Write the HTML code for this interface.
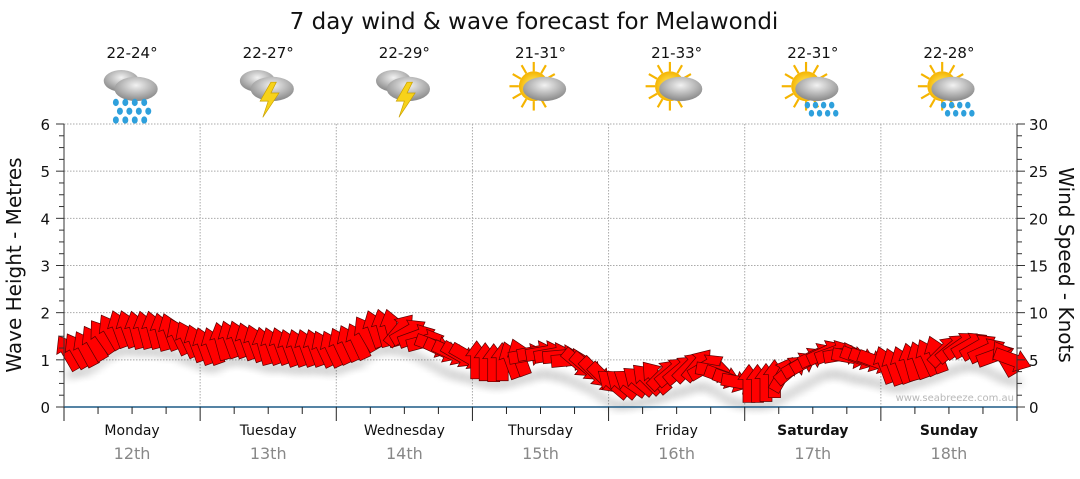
<!DOCTYPE html>
<html><head><meta charset="utf-8"><style>
body{margin:0;background:#fff;width:1080px;height:475px;overflow:hidden;font-family:"DejaVu Sans",sans-serif}
svg text{font-family:"DejaVu Sans",sans-serif}
</style></head><body>
<svg id="c" width="1080" height="475">
<defs>
<radialGradient id="cloud" cx="50%" cy="35%" r="60%"><stop offset="0" stop-color="#f2f2f2"/><stop offset="1" stop-color="#8f8f8f"/></radialGradient>
<radialGradient id="sun" cx="50%" cy="50%" r="50%"><stop offset="0" stop-color="#fff27a"/><stop offset="1" stop-color="#f5b400"/></radialGradient>
<filter id="sh" x="-50%" y="-50%" width="200%" height="200%"><feGaussianBlur stdDeviation="4"/></filter>
</defs>
<text x="534" y="29" text-anchor="middle" font-size="23" fill="#111">7 day wind &amp; wave forecast for Melawondi</text>
<g id="grid"></g><g id="icons"></g><g id="marks"></g><g id="axes"></g>
<text transform="translate(21,265) rotate(-90)" text-anchor="middle" font-size="20" fill="#111">Wave Height - Metres</text>
<text transform="translate(1059,265) rotate(90)" text-anchor="middle" font-size="20" fill="#111">Wind Speed - Knots</text>
<text x="1014" y="401" text-anchor="end" font-size="10" fill="#b8b8b8">www.seabreeze.com.au</text>
</svg>
<script>
const days=["Monday","Tuesday","Wednesday","Thursday","Friday","Saturday","Sunday"];
const dates=["12th","13th","14th","15th","16th","17th","18th"];
const temps=["22-24°","22-27°","22-29°","21-31°","21-33°","22-31°","22-28°"];
const icons=["rain","storm","storm","sun","sun","sunrain","sunrain"];
const leftTicks=[0,1,2,3,4,5,6];
const rightTicks=[0,5,10,15,20,25,30];
const windSpeed=[5.8,6,6.2,6.8,7.5,8,8.3,8.3,8.2,8.2,8.2,8,8,7.5,7.2,6.8,
6.5,6.5,7,7.2,7.2,7,6.8,6.5,6.5,6.5,6.3,6.3,6.3,6.3,6.2,6.2,
6.5,6.8,7,7.8,8.3,8.4,8.4,8.2,8,7.5,7,6.5,6,5.7,5.5,5.3,
5,4.8,4.7,4.8,5,5.3,5.5,5.8,5.8,5.6,5.4,5,4.6,4.2,3.6,3,
2.5,2.5,2.6,2.8,3,3.2,3.5,3.8,4,4.3,4.5,4.3,3.8,3.2,2.8,2.6,
2.5,2.5,2.6,3,3.5,4,4.5,5,5.5,5.8,5.8,5.6,5.3,5.2,5,4.8,
4.5,4.3,4.5,4.8,5,5.3,5.6,6,6.3,6.6,6.6,6.4,6,5.5,5.2,5];
const windDir=[-30,-30,-28,-30,-35,-30,-20,-20,-15,-15,-15,-15,-20,-25,-25,-20,
-20,-20,-15,-20,-20,-20,-20,-15,-20,-20,-20,-20,-20,-20,-25,-25,
-25,-25,-25,-30,-20,-15,-15,40,60,70,75,110,115,115,120,120,
0,0,0,0,-20,-20,80,80,80,80,85,85,130,130,135,135,
-50,-50,-55,-50,-45,-40,45,50,50,45,40,60,100,110,110,100,
0,0,0,0,30,50,60,60,65,65,70,80,100,110,110,110,
-20,-20,-20,-15,-20,-25,-20,45,50,55,60,60,65,70,-30,110];
const X0=64,X1=1017,Y0=407,Y1=124,N=7;
const dayW=(X1-X0)/N;
const xDay=d=>X0+d*dayW;
const yM=m=>Y0-(m/6)*(Y0-Y1);
const yK=k=>Y0-(k/30)*(Y0-Y1);
const xSlot=i=>X0+(i+0.5)*dayW/16;
const NS="http://www.w3.org/2000/svg";
function mk(tag,attrs,parent){const e=document.createElementNS(NS,tag);for(const k in attrs)e.setAttribute(k,attrs[k]);parent.appendChild(e);return e;}
const grid=document.getElementById('grid'),axes=document.getElementById('axes'),marks=document.getElementById('marks'),ic=document.getElementById('icons');
leftTicks.forEach(t=>{if(t>0){const l=mk('line',{x1:X0,x2:X1,y1:yM(t),y2:yM(t),stroke:'#aaa','stroke-dasharray':'1.5,1.5'},grid);

}
const tx=mk('text',{x:X0-14,y:yM(t)+6,'text-anchor':'end','font-size':15,fill:'#111'},axes);tx.textContent=t;

});
for(let v=0;v<=6;v+=0.25){mk('line',{x1:X0-(v%1===0?8:5),x2:X0,y1:yM(v),y2:yM(v),stroke:'#333'},axes);}
rightTicks.forEach(t=>{const tx=mk('text',{x:X1+12,y:yK(t)+6,'font-size':15,fill:'#111'},axes);tx.textContent=t;

});
for(let v=0;v<=30;v+=1.25){mk('line',{x1:X1,x2:X1+(v%5===0?8:5),y1:yK(v),y2:yK(v),stroke:'#333'},axes);}
mk('line',{x1:X0,x2:X0,y1:Y1,y2:Y0,stroke:'#333'},axes);
mk('line',{x1:X1,x2:X1,y1:Y1,y2:Y0,stroke:'#333'},axes);
mk('line',{x1:X0,x2:X1,y1:Y0,y2:Y0,stroke:'#1d5a85','stroke-width':1.5},axes);
for(let d=0;d<=N;d++){
 if(d>0&&d<N){const g=mk('line',{x1:xDay(d),x2:xDay(d),y1:Y1,y2:Y0,stroke:'#aaa','stroke-dasharray':'1.5,1.5'},grid);
 
 }
 mk('line',{x1:xDay(d),x2:xDay(d),y1:Y0,y2:Y0+14,stroke:'#222'},axes);
 if(d<N){for(let q=1;q<4;q++)mk('line',{x1:xDay(d)+q*dayW/4,x2:xDay(d)+q*dayW/4,y1:Y0,y2:Y0+7,stroke:'#222'},axes);
 const cx=xDay(d)+dayW/2;
 const dl=mk('text',{x:cx,y:435,'text-anchor':'middle','font-size':14,fill:'#111','font-weight':d>=5?'bold':'normal'},axes);dl.textContent=days[d];
 
 
 const dt=mk('text',{x:cx,y:459,'text-anchor':'middle','font-size':16,fill:'#888'},axes);dt.textContent=dates[d];
 
 
 const tt=mk('text',{x:cx,y:58,'text-anchor':'middle','font-size':15,fill:'#111'},ic);tt.textContent=temps[d];
 
 
 const g=mk('g',{transform:`translate(${cx},93) scale(1.35)`},ic);
 
 
 const k=icons[d];
 if(k==='sun'||k==='sunrain'){for(let r=0;r<12;r++){const a=r*30*Math.PI/180;mk('line',{x1:-5+Math.cos(a)*11,y1:-5+Math.sin(a)*11,x2:-5+Math.cos(a)*18,y2:-5+Math.sin(a)*18,stroke:'#f5b400','stroke-width':1.6},g);}
  mk('circle',{cx:-5,cy:-5,r:11,fill:'url(#sun)'},g);}
 if(k==='rain'||k==='storm'){mk('ellipse',{cx:-8,cy:-9,rx:13,ry:8,fill:'url(#cloud)'},g);}
 mk('ellipse',{cx:3,cy:-3,rx:16,ry:9,fill:'url(#cloud)'},g);
 if(k==='storm'){mk('polygon',{points:'2,-8 -6,6 0,6 -4,18 8,0 2,0 6,-8',fill:'#f7d21a',stroke:'#c9a000','stroke-width':0.5},g);}
 if(k==='rain'){for(let r=0;r<3;r++)for(let c=0;c<4;c++)mk('ellipse',{cx:-12+c*7+(r%2)*3,cy:7+r*6.5,rx:2.2,ry:2.7,fill:'#2ea0dc'},g);}
 if(k==='sunrain'){for(let r=0;r<2;r++)for(let c=0;c<4;c++)mk('ellipse',{cx:-4+c*6+(r%2)*3,cy:9+r*6,rx:2,ry:2.5,fill:'#2ea0dc'},g);}
 }
}
// arrow shape centred at origin pointing up
const arrowPts="-6,19 6,19 6,-4 11,-4 0,-19 -11,-4 -6,-4";
windSpeed.forEach((s,i)=>{
 const x=xSlot(i),y=yK(s);
 const sh=mk('ellipse',{cx:x+3,cy:y+22,rx:8,ry:5,fill:'#000',opacity:0.12,filter:'url(#sh)'},marks);
 
 
});
windSpeed.forEach((s,i)=>{
 const x=xSlot(i),y=yK(s);
 const p=mk('polygon',{points:arrowPts,transform:`translate(${x},${y}) rotate(${windDir[i]})`,fill:'#ff0000',stroke:'#5a0000','stroke-width':0.7},marks);
 
 
});
</script>
</body></html>
